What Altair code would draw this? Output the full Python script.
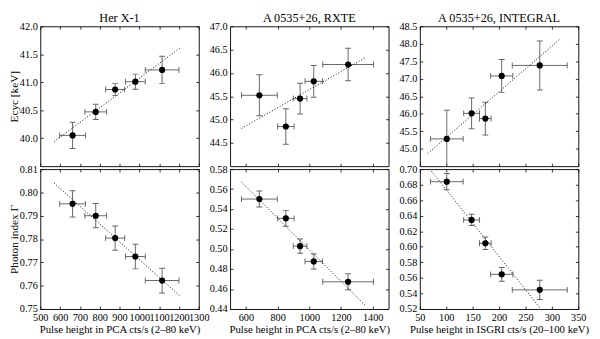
import altair as alt
import pandas as pd

FONT = "Liberation Serif"

# ---------------- data ----------------
# Her X-1 (RXTE PCA)
her_x = [663, 780, 878, 980, 1115]
her_xerr = [65, 55, 48, 50, 85]
her_ec = [40.05, 40.47, 40.87, 41.01, 41.22]
her_ec_err = [0.235, 0.135, 0.105, 0.135, 0.245]
her_gamma = [0.7951, 0.7900, 0.7804, 0.7725, 0.7622]
her_gamma_err = [0.0056, 0.0052, 0.0052, 0.0053, 0.0053]
her_fit_x = [570, 1205]
her_fit_ec = [39.94, 41.61]
her_fit_gamma = [0.8040, 0.7556]

# A 0535+26, RXTE
rxte_x = [685, 852, 942, 1028, 1245]
rxte_xerr = [113, 52, 43, 55, 160]
rxte_ec = [45.52, 44.85, 45.45, 45.82, 46.18]
rxte_ec_err = [0.44, 0.38, 0.33, 0.34, 0.35]
rxte_gamma = [0.5500, 0.5307, 0.5029, 0.4876, 0.4672]
rxte_gamma_err = [0.0080, 0.0080, 0.0072, 0.0075, 0.0080]
rxte_fit_x = [572, 1355]
rxte_fit_ec = [44.81, 46.33]
rxte_fit_gamma = [0.5670, 0.4432]

# A 0535+26, INTEGRAL
int_x = [101, 148, 174, 205, 277]
int_xerr = [31, 15, 11, 21, 52]
int_ec = [45.28, 46.01, 45.86, 47.08, 47.38]
int_ec_err = [0.82, 0.44, 0.47, 0.47, 0.70]
int_gamma = [0.6838, 0.6346, 0.6046, 0.5646, 0.5446]
int_gamma_err = [0.0105, 0.0072, 0.0080, 0.0088, 0.0123]
int_fit_x = [65, 314]
int_fit_ec = [44.86, 48.12]
int_fit_gamma = [0.7034, 0.4900]

# axis ticks
pca1_ticks = [500, 600, 700, 800, 900, 1000, 1100, 1200, 1300]
pca2_ticks = [600, 800, 1000, 1200, 1400]
isgri_ticks = [50, 100, 150, 200, 250, 300, 350]
her_ec_ticks = [40.0, 40.5, 41.0, 41.5, 42.0]
her_g_ticks = [0.75, 0.76, 0.77, 0.78, 0.79, 0.80, 0.81]
rxte_ec_ticks = [44.5, 45.0, 45.5, 46.0, 46.5, 47.0]
rxte_g_ticks = [0.44, 0.46, 0.48, 0.50, 0.52, 0.54, 0.56, 0.58]
int_ec_ticks = [45.0, 45.5, 46.0, 46.5, 47.0, 47.5, 48.0, 48.5]
int_g_ticks = [0.52, 0.54, 0.56, 0.58, 0.60, 0.62, 0.64, 0.66, 0.68, 0.70]

titles = ["Her X-1", "A 0535+26, RXTE", "A 0535+26, INTEGRAL"]
xtitle_pca = "Pulse height in PCA cts/s (2–80 keV)"
xtitle_isgri = "Pulse height in ISGRI cts/s (20–100 keV)"
ytitle_top = "Ecyc [keV]"
ytitle_bot = "Photon index Γ"

W, H = 162, 143
ERR = "#666666"


def panel(x, xerr, y, yerr, fx, fy, xdom, ydom, xvals, yvals, xfmt, yfmt,
          title=None, xtitle=None, ytitle=None, xlabels=False):
    df = pd.DataFrame({
        "x": x, "y": y,
        "xlo": [a - b for a, b in zip(x, xerr)],
        "xhi": [a + b for a, b in zip(x, xerr)],
        "ylo": [a - b for a, b in zip(y, yerr)],
        "yhi": [a + b for a, b in zip(y, yerr)],
    })
    fit = pd.DataFrame({"x": fx, "y": fy})
    xs = alt.Scale(domain=xdom, nice=False, zero=False)
    ys = alt.Scale(domain=ydom, nice=False, zero=False)
    common = dict(grid=False, domain=False, ticks=True, tickSize=3, offset=-3,
                  tickColor="black", tickWidth=0.8)
    xb = alt.Axis(orient="bottom", values=xvals, labels=xlabels, format=xfmt,
                  labelOverlap=False, labelFlush=False, labelPadding=4,
                  title=xtitle, titlePadding=1, titleFontSize=11, **common)
    yl = alt.Axis(orient="left", values=yvals, format=yfmt, labelOverlap=False,
                  labelPadding=3, title=ytitle, titlePadding=0, titleFontSize=11.5,
                  **common)
    xt = alt.Axis(orient="top", values=xvals, labels=False, title=None, **common)
    yr = alt.Axis(orient="right", values=yvals, labels=False, title=None, **common)

    ybars = alt.Chart(df).mark_rule(color=ERR, strokeWidth=1, clip=True).encode(
        x=alt.X("x:Q", scale=xs, axis=xb),
        y=alt.Y("ylo:Q", scale=ys, axis=yl), y2="yhi:Q")
    xbars = alt.Chart(df).mark_rule(color=ERR, strokeWidth=1, clip=True).encode(
        x=alt.X("xlo:Q", scale=xs, axis=None), x2="xhi:Q",
        y=alt.Y("y:Q", scale=ys, axis=None))
    caps = []
    for ycol in ["ylo", "yhi"]:
        caps.append(alt.Chart(df).mark_tick(orient="horizontal", size=6, thickness=1,
                                            color=ERR, clip=True, opacity=1).encode(
            x=alt.X("x:Q", scale=xs, axis=None), y=alt.Y(f"{ycol}:Q", scale=ys, axis=None)))
    for xcol in ["xlo", "xhi"]:
        caps.append(alt.Chart(df).mark_tick(orient="vertical", size=6, thickness=1,
                                            color=ERR, clip=True, opacity=1).encode(
            x=alt.X(f"{xcol}:Q", scale=xs, axis=None), y=alt.Y("y:Q", scale=ys, axis=None)))
    line = alt.Chart(fit).mark_line(color="black", strokeWidth=1, strokeDash=[1, 2],
                                    clip=True).encode(
        x=alt.X("x:Q", scale=xs, axis=None), y=alt.Y("y:Q", scale=ys, axis=None))
    pts = alt.Chart(df).mark_circle(size=40, color="black", opacity=1).encode(
        x=alt.X("x:Q", scale=xs, axis=xt), y=alt.Y("y:Q", scale=ys, axis=yr))
    ch = alt.layer(ybars, xbars, *caps, line, pts).resolve_axis(
        x="independent", y="independent").properties(width=W, height=H)
    if title:
        ch = ch.properties(title=title)
    return ch


panels = [
    panel(her_x, her_xerr, her_ec, her_ec_err, her_fit_x, her_fit_ec,
          [500, 1300], [39.5, 42.0], pca1_ticks, her_ec_ticks, "d", ".1f",
          title=titles[0], ytitle=ytitle_top),
    panel(rxte_x, rxte_xerr, rxte_ec, rxte_ec_err, rxte_fit_x, rxte_fit_ec,
          [500, 1500], [44.0, 47.0], pca2_ticks, rxte_ec_ticks, "d", ".1f",
          title=titles[1]),
    panel(int_x, int_xerr, int_ec, int_ec_err, int_fit_x, int_fit_ec,
          [50, 350], [44.5, 48.5], isgri_ticks, int_ec_ticks, "d", ".1f",
          title=titles[2]),
    panel(her_x, her_xerr, her_gamma, her_gamma_err, her_fit_x, her_fit_gamma,
          [500, 1300], [0.75, 0.81], pca1_ticks, her_g_ticks, "d", ".2f",
          xtitle=xtitle_pca, ytitle=ytitle_bot, xlabels=True),
    panel(rxte_x, rxte_xerr, rxte_gamma, rxte_gamma_err, rxte_fit_x, rxte_fit_gamma,
          [500, 1500], [0.44, 0.58], pca2_ticks, rxte_g_ticks, "d", ".2f",
          xtitle=xtitle_pca, xlabels=True),
    panel(int_x, int_xerr, int_gamma, int_gamma_err, int_fit_x, int_fit_gamma,
          [50, 350], [0.52, 0.70], isgri_ticks, int_g_ticks, "d", ".2f",
          xtitle=xtitle_isgri, xlabels=True),
]

chart = alt.concat(*panels, columns=3, spacing={"row": 3, "column": 32},
                   bounds="flush").properties(
    padding={"left": 0, "top": 0, "right": 2, "bottom": 0}
).configure_view(stroke="#111111", strokeWidth=1).configure_axis(
    labelFont=FONT, titleFont=FONT, labelFontSize=10.5, titleFontSize=11,
    titleFontWeight="normal", labelColor="black", titleColor="black"
).configure_title(font=FONT, fontSize=12.5, fontWeight="normal", offset=-3,
                  color="black", anchor="middle", frame="group")

chart.save("out.html", embed_options={"renderer": "svg", "actions": False})
